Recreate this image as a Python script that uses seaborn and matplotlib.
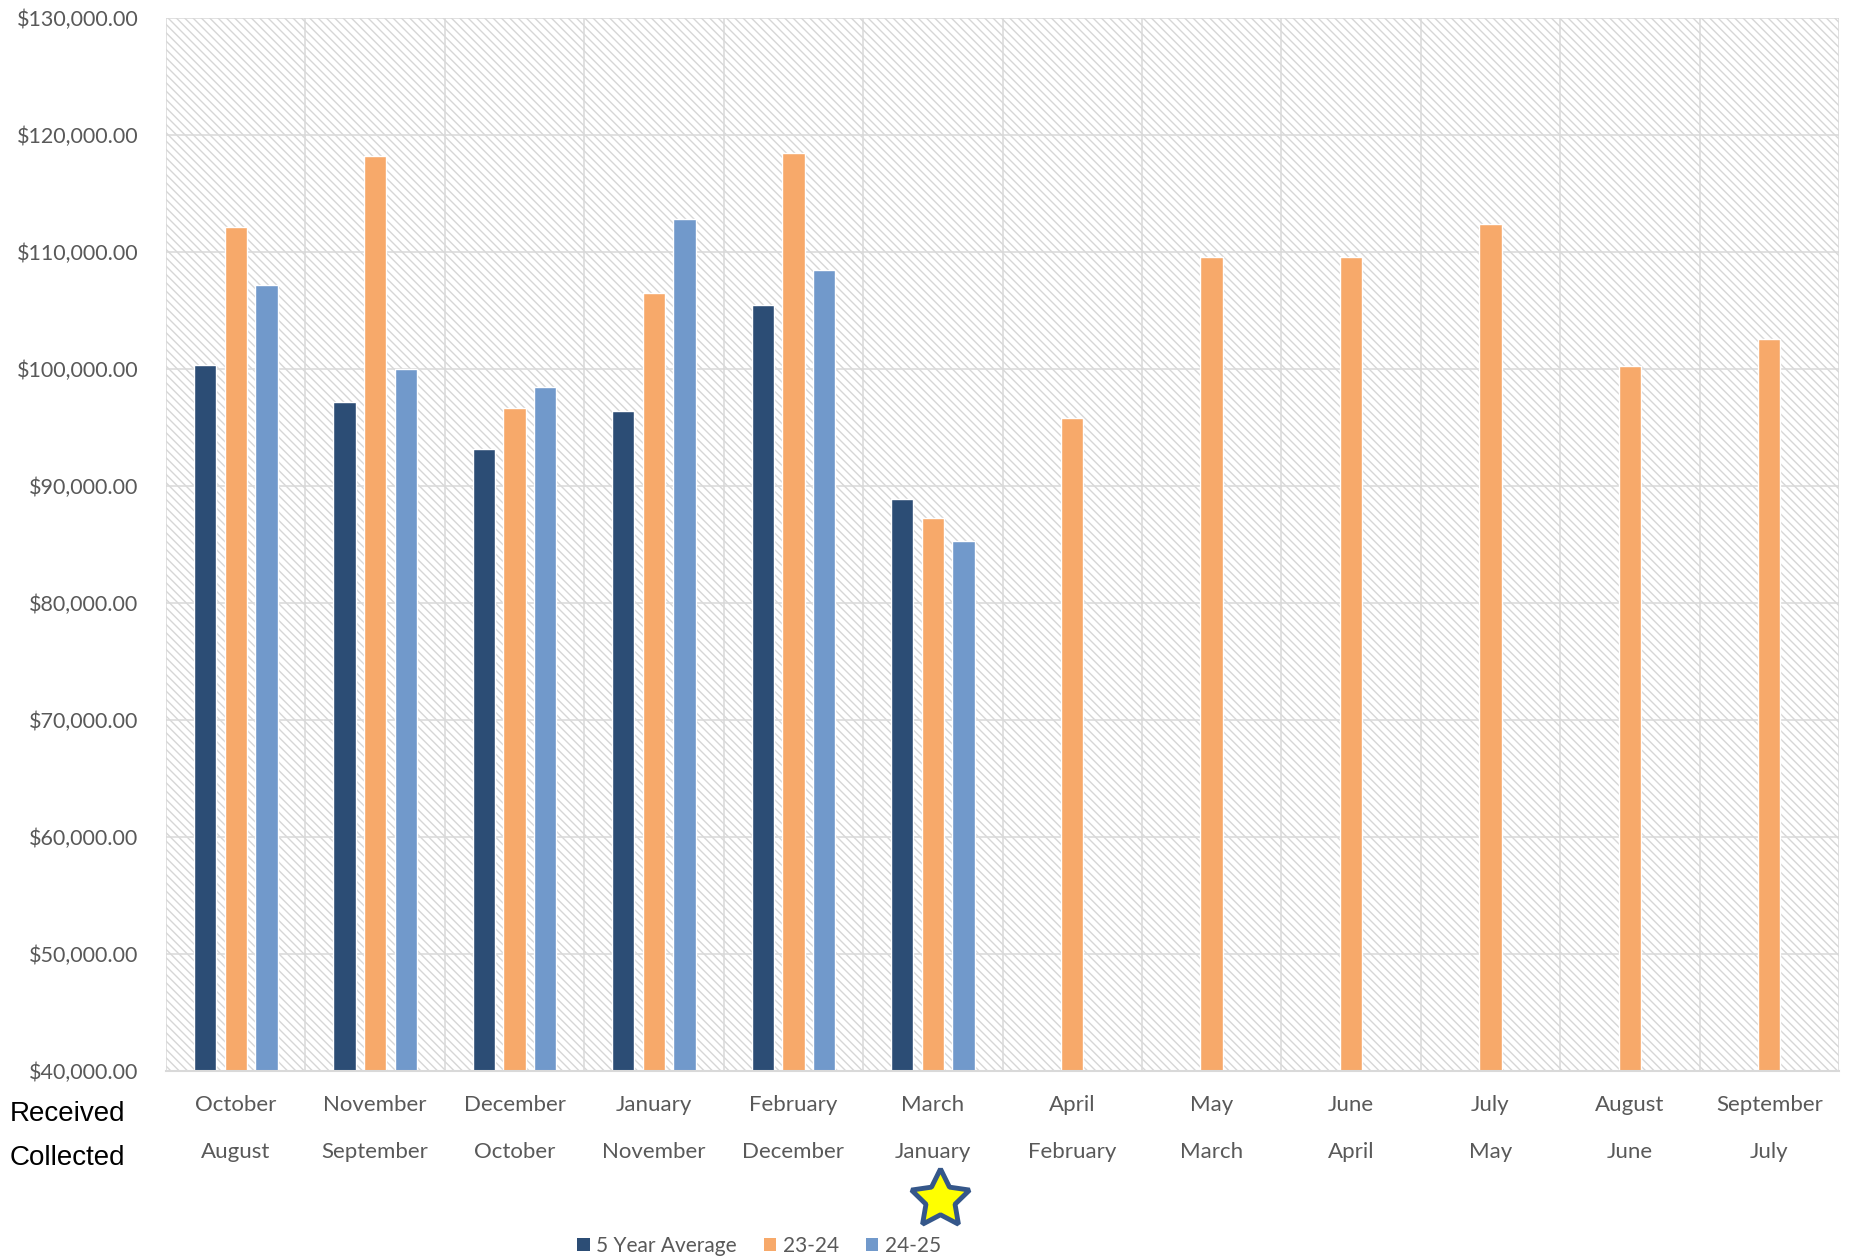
import numpy as np
import pandas as pd
import matplotlib
matplotlib.use("Agg")
import matplotlib.pyplot as plt
import matplotlib.transforms as mtransforms
from matplotlib.patches import Rectangle, Patch
from matplotlib.ticker import FuncFormatter
import seaborn as sns

# month the payment was received / month it was collected
received = ["October", "November", "December", "January", "February", "March",
            "April", "May", "June", "July", "August", "September"]
collected = ["August", "September", "October", "November", "December", "January",
             "February", "March", "April", "May", "June", "July"]

nan = np.nan
five_year_avg = [100300, 97200, 93200, 96450, 105500, 88900, nan, nan, nan, nan, nan, nan]
fy_23_24 = [112100, 118200, 96700, 106500, 118500, 87250, 95800, 109600, 109550, 112400, 100250, 102550]
fy_24_25 = [107150, 99970, 98450, 112800, 108450, 85270, nan, nan, nan, nan, nan, nan]

series_names = ["5 Year Average", "23-24", "24-25"]
colors = ["#2C4D75", "#F7A96A", "#7199CB"]

# long table for seaborn
df = pd.DataFrame({
    "month": received * 3,
    "series": [s for s in series_names for _ in received],
    "amount": five_year_avg + fy_23_24 + fy_24_25,
}).dropna()

sns.set_style("white")
plt.rcParams["font.family"] = ["Lato", "DejaVu Sans"]
grey = "#595959"
line_grey = "#D9D9D9"

fig = plt.figure(figsize=(18.51, 12.59), dpi=100)
ax = fig.add_axes([166 / 1851, 1 - 1071 / 1259, (1839 - 166) / 1851, (1071 - 18) / 1259])

# hatched plot background
ax.add_patch(Rectangle((0, 0), 1, 1, transform=ax.transAxes, facecolor="white",
                       edgecolor="#D6D6D6", hatch="\\\\\\\\", linewidth=0, zorder=0))

sns.barplot(data=df, x="month", y="amount", hue="series", order=received,
            hue_order=series_names, palette=colors, saturation=1, width=0.66,
            gap=0.27, errorbar=None, legend=False, ax=ax, zorder=2)

ax.set_xlim(-0.5, 11.5)
ax.set_ylim(40000, 130000)
ax.set_yticks(np.arange(40000, 130001, 10000))
ax.yaxis.set_major_formatter(FuncFormatter(lambda v, p: "${:,.2f}".format(v)))
ax.set_xlabel("")
ax.set_ylabel("")

# category boundaries: grid + long tick marks below the axis
ax.set_xticks(np.arange(-0.5, 12, 1), minor=True)
ax.set_xticks(range(12))
ax.set_xticklabels([])
ax.tick_params(axis="x", which="major", length=0)
ax.tick_params(axis="x", which="minor", length=68, width=1.1, color=line_grey, direction="out")
ax.tick_params(axis="y", length=0, labelsize=15.5, labelcolor=grey, pad=20)
ax.grid(True, axis="y", which="major", color=line_grey, linewidth=1.1)
ax.grid(True, axis="x", which="minor", color=line_grey, linewidth=1.1)
ax.set_axisbelow(True)
for s in ["top", "right", "left"]:
    ax.spines[s].set_visible(False)
ax.spines["bottom"].set_color(line_grey)
ax.spines["bottom"].set_linewidth(1.5)

# two rows of month labels
trans = mtransforms.blended_transform_factory(ax.transData, fig.transFigure)
for i in range(12):
    ax.text(i, 1 - 1105 / 1259, received[i], transform=trans, ha="center", va="center",
            fontsize=16, color=grey)
    ax.text(i, 1 - 1152 / 1259, collected[i], transform=trans, ha="center", va="center",
            fontsize=16, color=grey)

fig.text(10 / 1851, 1 - 1114 / 1259, "Received", ha="left", va="center", fontsize=20,
         color="black", family=["Liberation Sans", "DejaVu Sans"])
fig.text(10 / 1851, 1 - 1158 / 1259, "Collected", ha="left", va="center", fontsize=20,
         color="black", family=["Liberation Sans", "DejaVu Sans"])

# star marking the current month
fig.add_artist(plt.Line2D([940 / 1851], [1 - 1199 / 1259], marker=(5, 1, 0), markersize=44,
                          markerfacecolor="#FFFF00", markeredgecolor="#35578A",
                          markeredgewidth=3.5, linestyle="none", transform=fig.transFigure))

handles = [Patch(facecolor=c, edgecolor="none", label=n) for c, n in zip(colors, series_names)]
fig.legend(handles=handles, loc="center", bbox_to_anchor=(759 / 1851, 1 - 1246 / 1259),
           ncol=3, frameon=False, fontsize=15, labelcolor=grey, handlelength=0.6,
           handleheight=0.6, handletextpad=0.3, columnspacing=1.3)

fig.savefig("out.png", dpi=100)
